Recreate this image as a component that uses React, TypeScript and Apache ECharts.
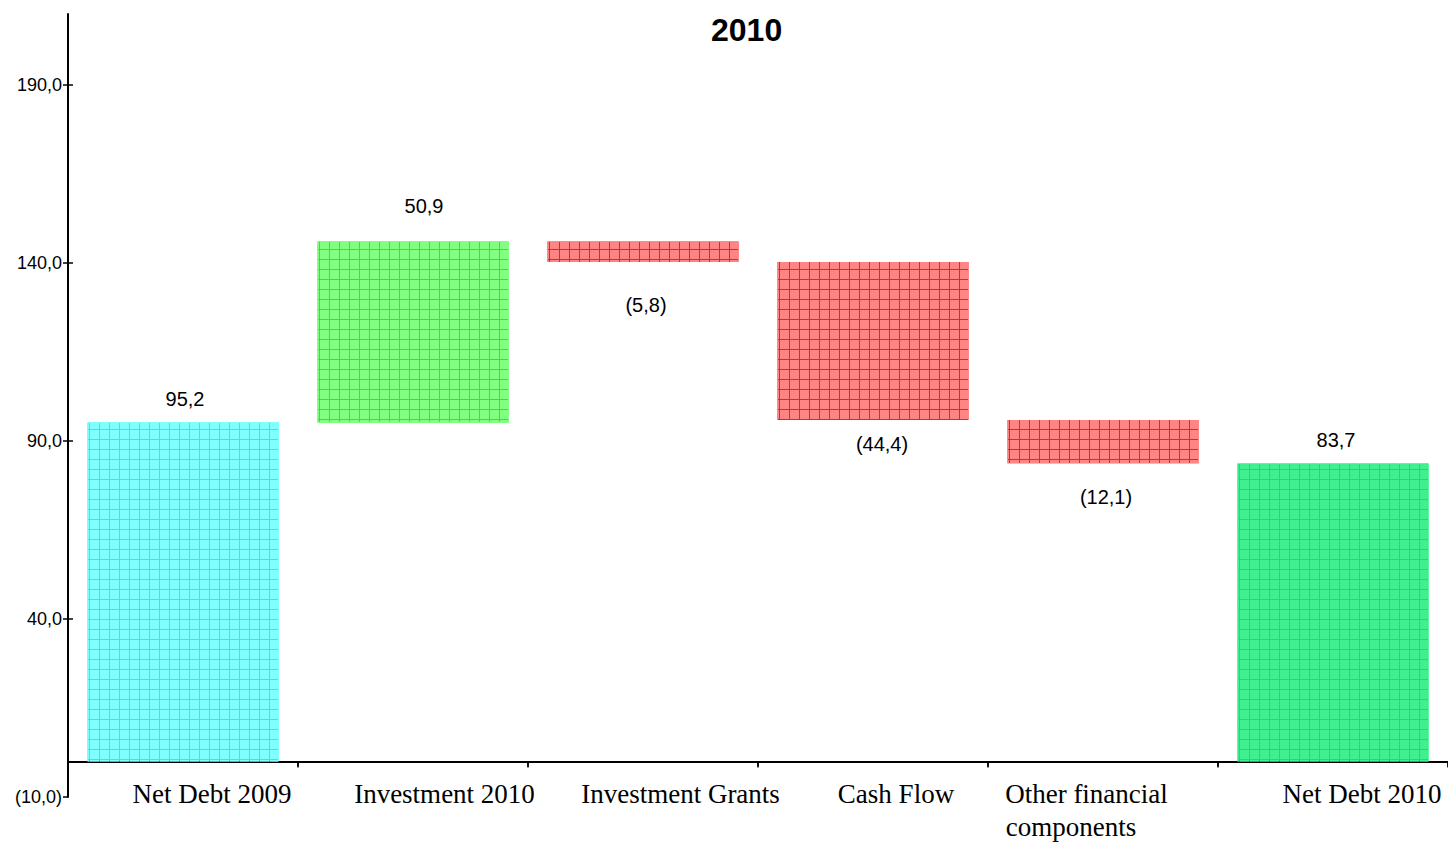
import React, { useEffect, useRef } from "react";
import * as echarts from "echarts";

const title = "2010";
const categories = [
  "Net Debt 2009",
  "Investment 2010",
  "Investment Grants",
  "Cash Flow",
  "Other financial\ncomponents",
  "Net Debt 2010",
];
// signed movements; first and last are totals
const values = [95.2, 50.9, -5.8, -44.4, -12.1, 83.7];
const isTotal = [true, false, false, false, false, true];
const yTicks = [-10, 40, 90, 140, 190];

const fmt = (v: number) => {
  const s = Math.abs(v).toFixed(1).replace(".", ",");
  return v < 0 ? `(${s})` : s;
};

const palette = [
  { line: "#00ffff", fill: "#80ffff" },
  { line: "#10ff10", fill: "#80ff80" },
  { line: "#ff1a1a", fill: "#ff8585" },
  { line: "#ff1a1a", fill: "#ff8585" },
  { line: "#ff1a1a", fill: "#ff8585" },
  { line: "#00f050", fill: "#40f090" },
];
// label tweaks: [distance, x offset]
const labelTweak: [number, number][] = [
  [14, 2],
  [25, 11],
  [33, 3],
  [14, 9],
  [24, 3],
  [14, 3],
];
// x label rich padding to mimic original placement
const xPad: Record<number, number[]> = {
  0: [0, 0, 0, 58],
  1: [0, 0, 0, 63],
  2: [0, 0, 0, 75],
  3: [0, 0, 0, 46],
  5: [0, 0, 0, 58],
};
const XFONT = 27;

export default function App() {
  const ref = useRef<HTMLDivElement>(null);
  useEffect(() => {
    if (!ref.current) return;
    document.body.style.margin = "0";
    document.body.style.overflow = "hidden";
    const chart = echarts.init(ref.current, undefined, { renderer: "svg" });

    // waterfall bases
    const base: number[] = [];
    const bars: number[] = [];
    let running = 0;
    values.forEach((v, i) => {
      if (isTotal[i]) {
        base.push(0);
        bars.push(v);
        running = v;
      } else if (v >= 0) {
        base.push(running);
        bars.push(v);
        running += v;
      } else {
        running += v;
        base.push(running);
        bars.push(-v);
      }
    });

    const txt = { fontFamily: "Liberation Serif", fontSize: XFONT, color: "#000", lineHeight: 33 };
    const rich: any = {
      o1: { ...txt, padding: [0, 33, 0, 0] },
      o2: { ...txt, padding: [0, 64, 0, 0] },
    };
    Object.keys(xPad).forEach((k) => {
      rich["c" + k] = { ...txt, padding: xPad[+k] };
    });

    const yAxisCommon = {
      type: "value",
      min: -10,
      max: 210,
      interval: 50,
      splitLine: { show: false },
    };

    const option: any = {
      animation: false,
      backgroundColor: "#ffffff",
      title: {
        text: title,
        left: 706,
        top: 9,
        textStyle: { fontFamily: "Liberation Sans", fontSize: 32, fontWeight: "bold", color: "#000" },
      },
      grid: { left: 68, right: 0, top: 14, bottom: 45, containLabel: false, outerBoundsMode: "none" },
      xAxis: [
        {
          type: "category",
          data: categories,
          axisLine: { onZero: true, onZeroAxisIndex: 0, lineStyle: { color: "#000", width: 2 } },
          axisTick: { show: true, interval: 0, length: 6, lineStyle: { color: "#000", width: 1.5 } },
          axisLabel: {
            interval: 0,
            margin: -20,
            fontFamily: "Liberation Serif",
            fontSize: XFONT,
            color: "#000",
            lineHeight: 33,
            formatter: (val: string, idx: number) => {
              if (idx === 4) {
                const parts = val.split("\n");
                return `{o1|${parts[0]}}\n{o2|${parts[1]}}`;
              }
              return `{c${idx}|${val}}`;
            },
            rich,
          },
        },
        {
          type: "category",
          data: categories,
          axisLine: { show: false, onZero: true, onZeroAxisIndex: 0 },
          axisTick: { show: true, inside: true, interval: 0, length: 5, lineStyle: { color: "#000", width: 1.5 } },
          axisLabel: { show: false },
        },
      ],
      yAxis: [
        {
          ...yAxisCommon,
          axisLine: { show: true, lineStyle: { color: "#000", width: 2 } },
          axisTick: { show: true, length: 5, customValues: yTicks, lineStyle: { color: "#000", width: 1.5 } },
          axisLabel: {
            customValues: yTicks,
            margin: 6,
            fontFamily: "Liberation Sans",
            fontSize: 18,
            color: "#000",
            formatter: (v: number) => fmt(v),
          },
        },
        {
          ...yAxisCommon,
          position: "left",
          axisLine: { show: false },
          axisTick: { show: true, inside: true, length: 5, customValues: yTicks.slice(1), lineStyle: { color: "#000", width: 1.5 } },
          axisLabel: { show: false },
        },
      ],
      series: [
        {
          type: "bar",
          stack: "wf",
          data: base,
          itemStyle: { color: "transparent" },
          emphasis: { disabled: true },
          barWidth: 191,
          silent: true,
        },
        {
          type: "bar",
          stack: "wf",
          barWidth: 191,
          data: bars.map((b, i) => ({
            value: b,
            itemStyle: {
              color: palette[i].line,
              decal: {
                symbol: "rect",
                symbolSize: 1,
                color: palette[i].fill,
                dashArrayX: [9, 1],
                dashArrayY: [9, 1],
                rotation: 0,
              },
            },
            label: {
              show: true,
              position: values[i] >= 0 ? "top" : "bottom",
              distance: labelTweak[i][0],
              offset: [labelTweak[i][1], 0],
              formatter: () => fmt(values[i]),
              fontFamily: "Liberation Sans",
              fontSize: 20,
              color: "#000",
            },
          })),
        },
      ],
    };
    chart.setOption(option);
    return () => chart.dispose();
  }, []);
  return <div ref={ref} style={{ width: 1448, height: 842 }} />;
}
